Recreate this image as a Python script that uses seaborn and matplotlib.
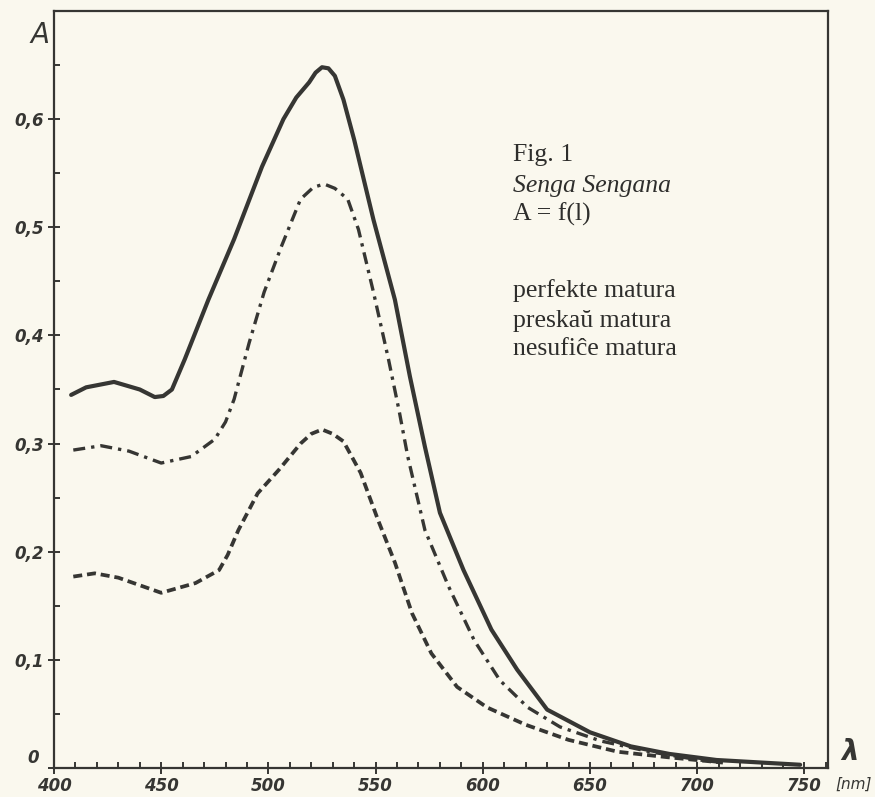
import numpy as np
import pandas as pd
import matplotlib
matplotlib.use("Agg")
import matplotlib.pyplot as plt
from matplotlib.transforms import ScaledTranslation
from matplotlib.ticker import MultipleLocator
import seaborn as sns

# ---- data ----
perfekte_nm = [408, 415, 428, 440, 447, 451, 455, 461, 472, 484, 497, 507, 513, 519,
               522, 525, 528, 531, 535, 540, 549, 559, 566, 573, 580, 591, 604, 616,
               630, 650, 669, 687, 709, 748]
perfekte_A = [0.345, 0.352, 0.357, 0.350, 0.343, 0.344, 0.350, 0.378, 0.433, 0.489,
              0.556, 0.600, 0.620, 0.634, 0.643, 0.648, 0.647, 0.640, 0.618, 0.581,
              0.507, 0.433, 0.362, 0.297, 0.236, 0.183, 0.128, 0.091, 0.054, 0.033,
              0.020, 0.013, 0.0074, 0.003]

preskau_nm = [409, 422, 435, 450, 464, 475, 480, 484, 491, 498, 506, 515, 521, 526,
              531, 537, 542, 549, 556, 561, 565, 573, 584, 596, 608, 621, 636, 655,
              678, 701, 712]
preskau_A = [0.294, 0.298, 0.293, 0.282, 0.288, 0.304, 0.320, 0.341, 0.393, 0.440,
             0.482, 0.526, 0.537, 0.540, 0.536, 0.526, 0.498, 0.440, 0.378, 0.330,
             0.288, 0.220, 0.168, 0.118, 0.081, 0.056, 0.038, 0.025, 0.015, 0.0074,
             0.005]

nesufice_nm = [409, 419, 430, 450, 466, 477, 481, 486, 495, 505, 515, 520, 525, 530,
               535, 543, 551, 559, 567, 576, 588, 602, 620, 640, 663, 686, 712]
nesufice_A = [0.177, 0.180, 0.176, 0.162, 0.171, 0.183, 0.197, 0.220, 0.254, 0.276,
              0.300, 0.309, 0.313, 0.309, 0.302, 0.273, 0.230, 0.190, 0.143, 0.106,
              0.075, 0.056, 0.040, 0.026, 0.015, 0.010, 0.005]

y_ticks = [0.0, 0.1, 0.2, 0.3, 0.4, 0.5, 0.6]
y_tick_labels = ["0", "0,1", "0,2", "0,3", "0,4", "0,5", "0,6"]
x_ticks = [400, 450, 500, 550, 600, 650, 700, 750]
x_tick_labels = ["400", "450", "500", "550", "600", "650", "700", "750"]

legend_lines = ["Fig. 1", "Senga Sengana", "A = f(l)", "", "perfekte matura",
                "preskaŭ matura", "nesufiĉe matura"]

# ---- style ----
paper = "#faf8ee"
ink = "#363633"
sns.set_theme(style="ticks")
plt.rcParams["font.family"] = ["DejaVu Sans"]

fig = plt.figure(figsize=(8.75, 7.97), dpi=100, facecolor=paper)
ax = fig.add_axes([54 / 875, 1 - 768 / 797, (828 - 54) / 875, (768 - 11) / 797])
ax.set_facecolor(paper)

df1 = pd.DataFrame({"nm": perfekte_nm, "A": perfekte_A})
df2 = pd.DataFrame({"nm": preskau_nm, "A": preskau_A})
df3 = pd.DataFrame({"nm": nesufice_nm, "A": nesufice_A})

sns.lineplot(data=df1, x="nm", y="A", ax=ax, color=ink, lw=3.0, sort=False,
             solid_joinstyle="round", solid_capstyle="round")
sns.lineplot(data=df2, x="nm", y="A", ax=ax, color=ink, lw=2.4, sort=False,
             linestyle=(0, (3.6, 1.8, 1.0, 1.8)))
sns.lineplot(data=df3, x="nm", y="A", ax=ax, color=ink, lw=2.7, sort=False,
             linestyle=(0, (2.4, 1.3)))

ax.set_xlim(401, 761)
ax.set_ylim(0, 0.70)

for s in ax.spines.values():
    s.set_color(ink)
    s.set_linewidth(1.6)

tick_font = dict(fontsize=12, fontstyle="italic", fontweight="bold", color=ink)
ax.set_xticks(x_ticks)
ax.set_xticklabels(x_tick_labels, **tick_font)
ax.set_yticks(y_ticks)
ax.set_yticklabels(y_tick_labels, **tick_font)
ax.xaxis.set_minor_locator(MultipleLocator(10))
ax.yaxis.set_minor_locator(MultipleLocator(0.05))
ax.tick_params(which="major", direction="inout", length=9, width=1.4, color=ink, pad=2)
ax.tick_params(which="minor", direction="in", length=4, width=1.4, color=ink)
ax.tick_params(axis="y", which="major", pad=3)

# lift the "0" label a little, as in the original
lbl0 = ax.get_yticklabels()[0]
lbl0.set_transform(lbl0.get_transform() + ScaledTranslation(-0.05, 0.12, fig.dpi_scale_trans))

ax.set_xlabel("")
ax.set_ylabel("")

fig.text(40 / 875, 1 - 35 / 797, "A", fontsize=20, fontstyle="italic", color=ink,
         ha="center", va="center")
fig.text(850 / 875, 1 - 752 / 797, "λ", fontsize=20, fontstyle="italic",
         fontweight="bold", color=ink, ha="center", va="center")
fig.text(872 / 875, 1 - 784 / 797, "[nm]", fontsize=11, fontstyle="italic",
         color=ink, ha="right", va="center")

ys = [155, 186, 214, 250, 291, 321, 349]
for txt, yy in zip(legend_lines, ys):
    if not txt:
        continue
    style = "italic" if txt == "Senga Sengana" else "normal"
    fig.text(513 / 875, 1 - yy / 797, txt, fontsize=18.5, family="Liberation Serif",
             fontstyle=style, color="#2e2e2c", ha="left", va="center")

fig.savefig("out.png", dpi=100, facecolor=paper)
